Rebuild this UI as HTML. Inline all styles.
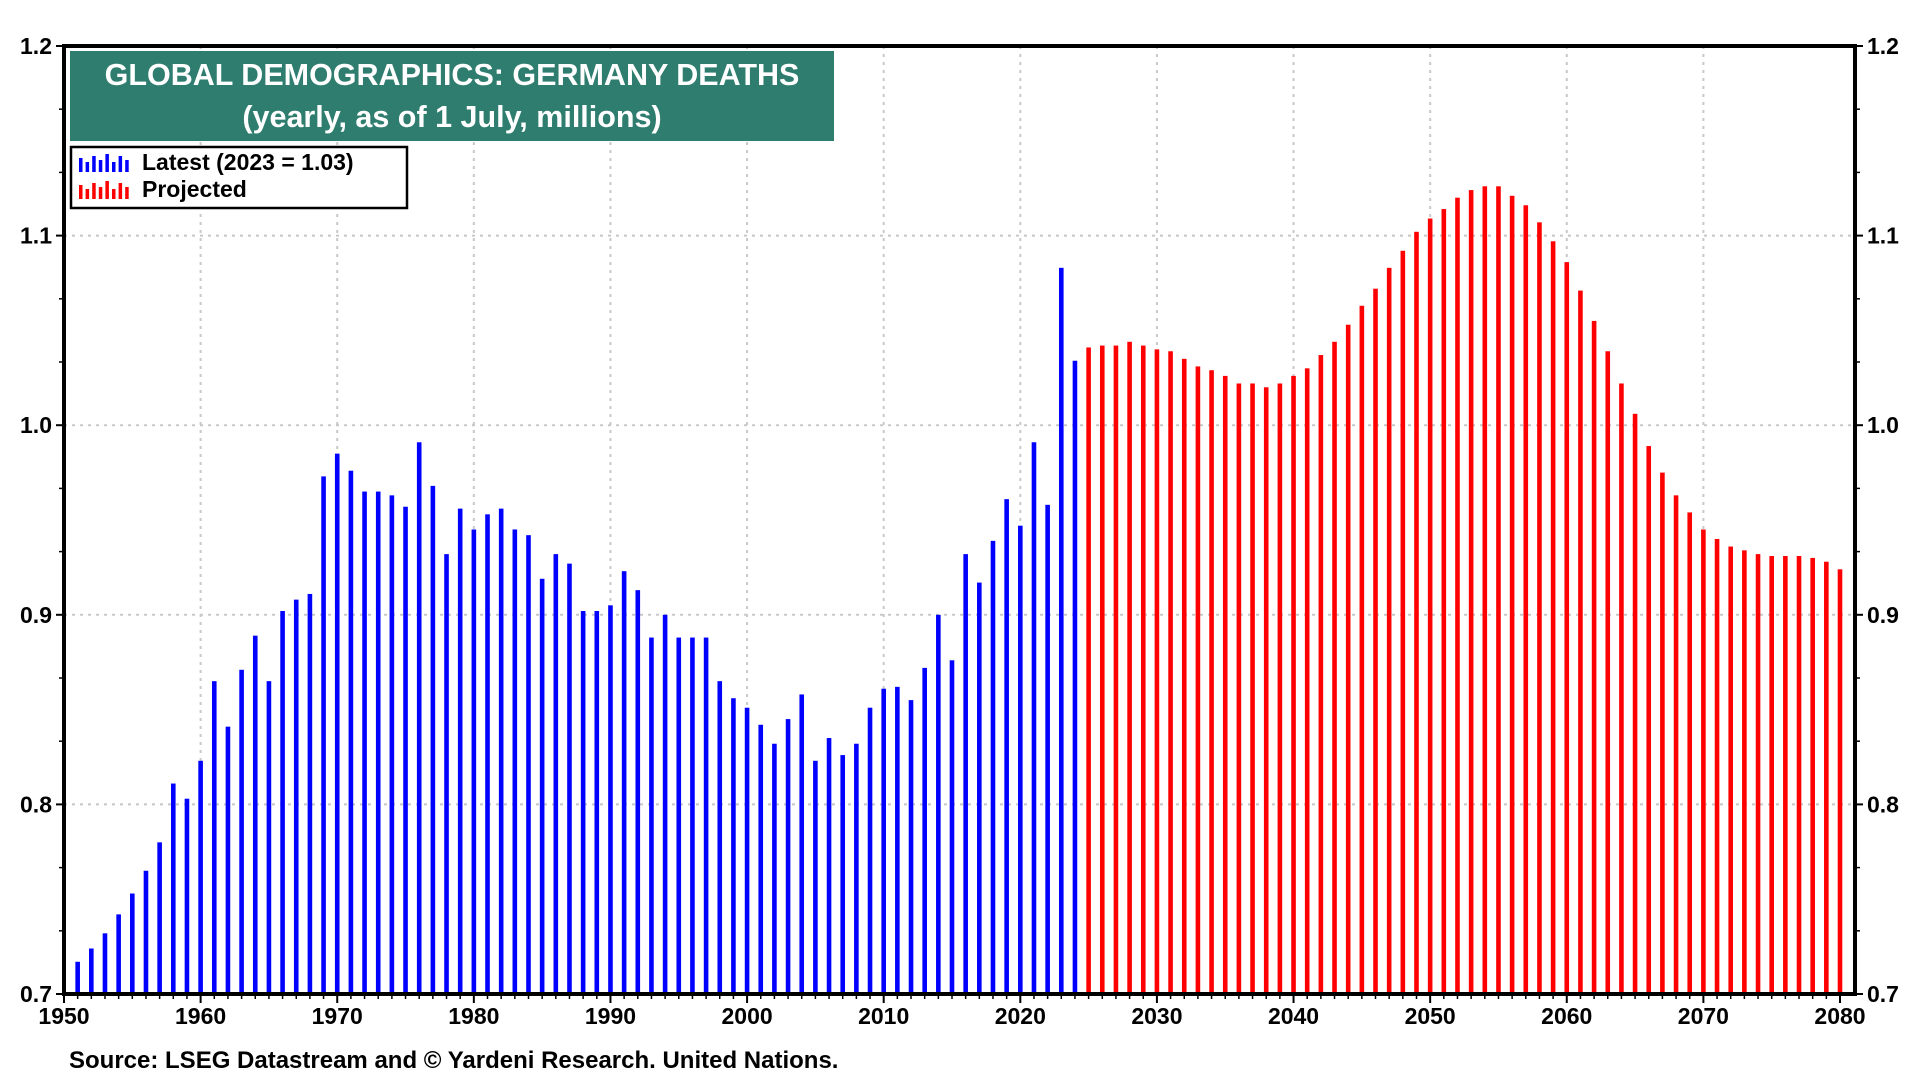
<!DOCTYPE html>
<html><head><meta charset="utf-8"><style>
html,body{margin:0;padding:0;background:#fff;width:1920px;height:1080px;overflow:hidden}
svg{display:block;font-family:"Liberation Sans",Arial,sans-serif}
</style></head><body>
<svg id="chart" width="1920" height="1080" viewBox="0 0 1920 1080"></svg>
<script>
const latestYears=[];for(let y=1951;y<=2024;y++)latestYears.push(y);
const latestValues=[0.717,0.724,0.732,0.742,0.753,0.765,0.780,0.811,0.803,0.823,0.865,0.841,0.871,0.889,0.865,0.902,0.908,0.911,0.973,0.985,0.976,0.965,0.965,0.963,0.957,0.991,0.968,0.932,0.956,0.945,0.953,0.956,0.945,0.942,0.919,0.932,0.927,0.902,0.902,0.905,0.923,0.913,0.888,0.900,0.888,0.888,0.888,0.865,0.856,0.851,0.842,0.832,0.845,0.858,0.823,0.835,0.826,0.832,0.851,0.861,0.862,0.855,0.872,0.900,0.876,0.932,0.917,0.939,0.961,0.947,0.991,0.958,1.083,1.034];
const projYears=[];for(let y=2025;y<=2080;y++)projYears.push(y);
const projValues=[1.041,1.042,1.042,1.044,1.042,1.040,1.039,1.035,1.031,1.029,1.026,1.022,1.022,1.020,1.022,1.026,1.030,1.037,1.044,1.053,1.063,1.072,1.083,1.092,1.102,1.109,1.114,1.120,1.124,1.126,1.126,1.121,1.116,1.107,1.097,1.086,1.071,1.055,1.039,1.022,1.006,0.989,0.975,0.963,0.954,0.945,0.940,0.936,0.934,0.932,0.931,0.931,0.931,0.930,0.928,0.924];
const yTicks=[0.7,0.8,0.9,1.0,1.1,1.2];
const xTicks=[1950,1960,1970,1980,1990,2000,2010,2020,2030,2040,2050,2060,2070,2080];

const L=64,R=1855,T=46,B=994;
const X=y=>L+(y-1950)*(1840-64)/130;
const Y=v=>B-(v-0.7)*(B-T)/0.5;
const svg=document.getElementById('chart');
const NS='http://www.w3.org/2000/svg';
function el(tag,attrs,parent){const e=document.createElementNS(NS,tag);for(const k in attrs)e.setAttribute(k,attrs[k]);(parent||svg).appendChild(e);return e;}

const grid=el('g',{});


xTicks.forEach(t=>{if(t>1950&&t<2080){const g=el('line',{x1:X(t),x2:X(t),y1:T,y2:B,stroke:'#c8c8c8','stroke-width':2,'stroke-dasharray':'3,5'},grid);}});
yTicks.forEach(t=>{if(t>0.7&&t<1.2){const g=el('line',{x1:L,x2:R,y1:Y(t),y2:Y(t),stroke:'#c8c8c8','stroke-width':2,'stroke-dasharray':'3,5'},grid);}});

function bars(years,vals,color,name){
  const g=el('g',{});
  
  
  years.forEach((yr,i)=>{
    const r=el('rect',{x:X(yr)-2.3,y:Y(vals[i]),width:4.6,height:B-Y(vals[i]),fill:color},g);
    
    
  });
}
bars(latestYears,latestValues,'#0000ff','latest-series');
bars(projYears,projValues,'#ff0000','projected-series');

const fr=el('rect',{x:L,y:T,width:R-L,height:B-T,fill:'none',stroke:'#000','stroke-width':4});



yTicks.forEach((t,i)=>{
  el('line',{x1:L-8,x2:L,y1:Y(t),y2:Y(t),stroke:'#000','stroke-width':2});
  el('line',{x1:R,x2:R+8,y1:Y(t),y2:Y(t),stroke:'#000','stroke-width':2});
  if(i<yTicks.length-1){for(let k=1;k<3;k++){const v=t+k*0.1/3;
    el('line',{x1:L-5,x2:L,y1:Y(v),y2:Y(v),stroke:'#000','stroke-width':1.5});
    el('line',{x1:R,x2:R+5,y1:Y(v),y2:Y(v),stroke:'#000','stroke-width':1.5});}}
  const a=el('text',{x:L-12,y:Y(t)+8,'text-anchor':'end','font-size':23,'font-weight':'bold'});a.textContent=t.toFixed(1);
  
  const b=el('text',{x:R+12,y:Y(t)+8,'font-size':23,'font-weight':'bold'});b.textContent=t.toFixed(1);
  
});
for(let yr=1950;yr<=2080;yr++){
  const major=yr%10===0;
  el('line',{x1:X(yr),x2:X(yr),y1:B,y2:B+(major?9:5),stroke:'#000','stroke-width':major?2:1.5});
}
xTicks.forEach(t=>{
  const a=el('text',{x:X(t),y:B+30,'text-anchor':'middle','font-size':23,'font-weight':'bold'});a.textContent=t;
  
});

const tb=el('rect',{x:70,y:51,width:764,height:90,fill:'#2e7d6f'});

const t1=el('text',{x:452,y:85,'text-anchor':'middle','font-size':30.5,'font-weight':'bold',fill:'#fff'});t1.textContent='GLOBAL DEMOGRAPHICS: GERMANY DEATHS';

const t2=el('text',{x:452,y:127,'text-anchor':'middle','font-size':30.5,'font-weight':'bold',fill:'#fff'});t2.textContent='(yearly, as of 1 July, millions)';


const lg=el('g',{});

el('rect',{x:71,y:147,width:336,height:61,fill:'#fff',stroke:'#000','stroke-width':2.5},lg);
const hs=[14,10,16,12,18,10,16,12];
function icon(x,yb,color){const g=el('g',{},lg);hs.forEach((h,i)=>el('rect',{x:x+i*6.6,y:yb-h,width:3.5,height:h,fill:color},g));return g;}
const i1=icon(79,172,'#0000ff');
const i2=icon(79,199,'#ff0000');
const l1=el('text',{x:142,y:170,'font-size':23,'font-weight':'bold'},lg);l1.textContent='Latest (2023 = 1.03)';

const l2=el('text',{x:142,y:197,'font-size':23,'font-weight':'bold'},lg);l2.textContent='Projected';


const s=el('text',{x:69,y:1068,'font-size':24,'font-weight':'bold'});s.textContent='Source: LSEG Datastream and \u00a9 Yardeni Research. United Nations.';

</script>
</body></html>
